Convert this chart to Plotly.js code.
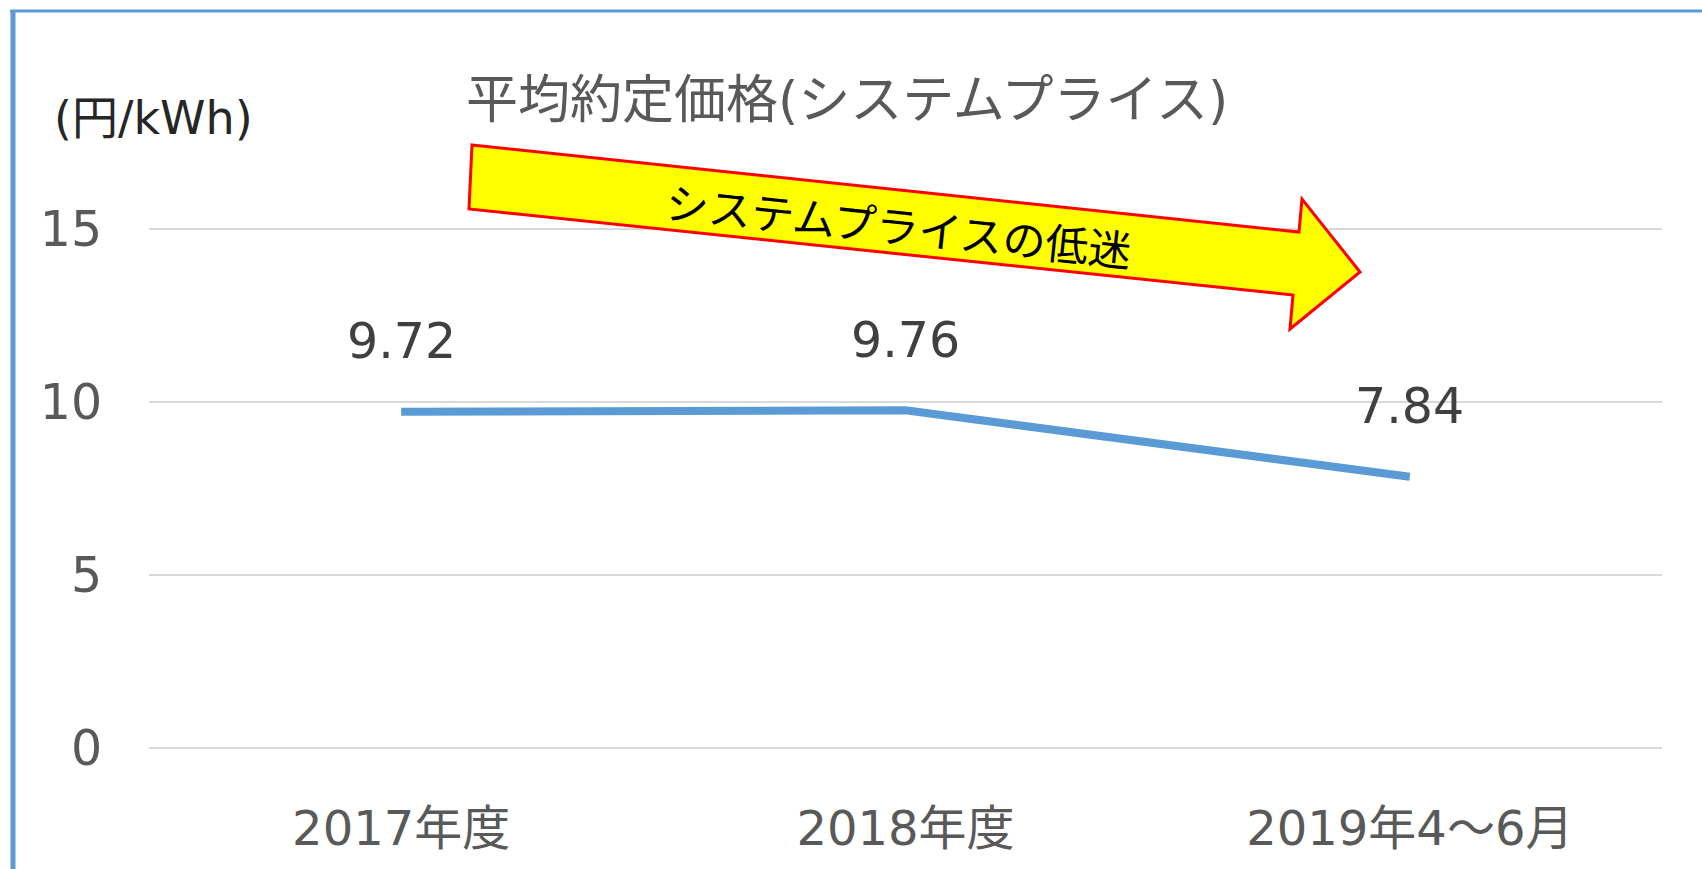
<!DOCTYPE html>
<html>
<head>
<meta charset="utf-8">
<script src="https://cdn.plot.ly/plotly-3.0.1.min.js"></script>
<style>
  html, body { margin: 0; padding: 0; background: #ffffff; }
  #chart { width: 1702px; height: 869px; }
</style>
</head>
<body>
<div id="chart"></div>
<script>
// ---- data ----
const categories = ['2017年度', '2018年度', '2019年4～6月'];
const prices = [9.72, 9.76, 7.84];
const priceLabels = ['9.72', '9.76', '7.84'];
const yTickValues = [0, 5, 10, 15];
const yTickLabels = ['0', '5', '10', '15'];
const titleText = '平均約定価格(システムプライス)';
const unitText = '(円/kWh)';
const arrowText = 'システムプライスの低迷';

// ---- geometry helpers (layout only) ----
const W = 1702, H = 869;
const M = { l: 149, r: 40, t: 228, b: 121 };
const PW = W - M.l - M.r, PH = H - M.t - M.b;
const px2x = px => (px - M.l) / PW;
const py2y = py => (H - M.b - py) / PH;
const pt = (x, y) => px2x(x).toFixed(5) + ',' + py2y(y).toFixed(5);

const arrowPath = 'M' + pt(472, 145) + ' L' + pt(1299, 232) + ' L' + pt(1302, 199) +
  ' L' + pt(1360, 272) + ' L' + pt(1290, 329) + ' L' + pt(1293, 295) +
  ' L' + pt(469, 209) + ' Z';

const latinJP = 'DejaVu Sans, Noto Sans CJK JP, sans-serif';
const jp = 'Noto Sans CJK JP, sans-serif';

const trace = {
  type: 'scatter',
  mode: 'lines',
  x: categories,
  y: prices,
  line: { color: '#5B9BD5', width: 8 },
  hoverinfo: 'skip',
  showlegend: false
};

const valueAnnotations = categories.map((c, i) => ({
  x: c, y: prices[i], xref: 'x', yref: 'y',
  text: priceLabels[i], showarrow: false,
  yshift: 70, yanchor: 'middle', xanchor: 'center',
  font: { family: latinJP, size: 49, color: '#404040' }
}));

const layout = {
  width: W, height: H,
  margin: { l: M.l, r: M.r, t: M.t, b: M.b, pad: 0 },
  paper_bgcolor: '#ffffff',
  plot_bgcolor: '#ffffff',
  showlegend: false,
  title: {
    text: titleText,
    xref: 'container', yref: 'container',
    x: 466 / W, xanchor: 'left',
    y: 1 - 100 / H, yanchor: 'middle',
    font: { family: latinJP, size: 52, color: '#595959' }
  },
  xaxis: {
    type: 'category',
    range: [-0.5, 2.5],
    showgrid: false, zeroline: false, showline: false,
    ticks: 'outside', ticklen: 38, tickcolor: 'rgba(0,0,0,0)',
    tickfont: { family: latinJP, size: 48, color: '#595959' },
    fixedrange: true
  },
  yaxis: {
    range: [0, 15.03],
    tickvals: yTickValues, ticktext: yTickLabels,
    showgrid: true, gridcolor: '#D9D9D9', gridwidth: 2,
    zeroline: true, zerolinecolor: '#D9D9D9', zerolinewidth: 2,
    showline: false,
    ticks: 'outside', ticklen: 36, tickcolor: 'rgba(0,0,0,0)',
    tickfont: { family: latinJP, size: 49, color: '#595959' },
    fixedrange: true
  },
  shapes: [
    { type: 'line', xref: 'paper', yref: 'paper', layer: 'above',
      x0: px2x(10), x1: px2x(W + 5), y0: py2y(11), y1: py2y(11),
      line: { color: '#5B9BD5', width: 3 } },
    { type: 'line', xref: 'paper', yref: 'paper', layer: 'above',
      x0: px2x(13), x1: px2x(13), y0: py2y(10), y1: py2y(H + 5),
      line: { color: '#5B9BD5', width: 5 } },
    { type: 'path', xref: 'paper', yref: 'paper', layer: 'above',
      path: arrowPath, fillcolor: '#FFFF00',
      line: { color: '#FF0000', width: 3 } }
  ],
  annotations: valueAnnotations.concat([
    { xref: 'paper', yref: 'paper', x: px2x(52), y: py2y(118),
      xanchor: 'left', yanchor: 'middle', showarrow: false,
      text: unitText,
      font: { family: latinJP, size: 46, color: '#262626' } },
    { xref: 'paper', yref: 'paper', x: px2x(899), y: py2y(224),
      xanchor: 'center', yanchor: 'middle', showarrow: false,
      text: arrowText, textangle: 6,
      font: { family: jp, size: 43, color: '#000000' } }
  ])
};

Plotly.newPlot('chart', [trace], layout, { staticPlot: true, displayModeBar: false });
</script>
</body>
</html>
